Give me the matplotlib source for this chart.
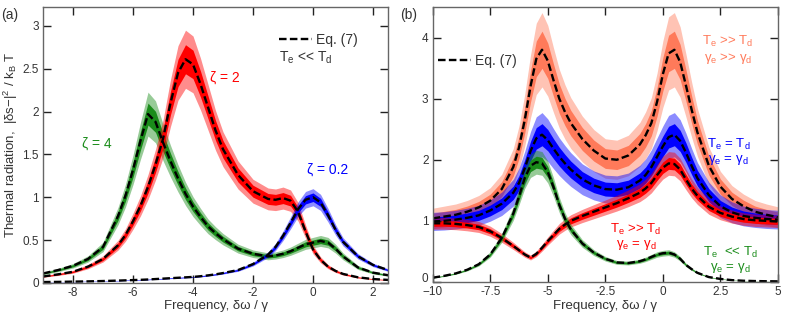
import numpy as np
import matplotlib
matplotlib.use("Agg")
import matplotlib.pyplot as plt
from matplotlib.transforms import ScaledTranslation

plt.rcParams['font.family'] = ['Liberation Sans', 'DejaVu Sans']
plt.rcParams['mathtext.fontset'] = 'custom'
plt.rcParams['mathtext.rm'] = 'Liberation Sans'
plt.rcParams['mathtext.it'] = 'Liberation Sans:italic'
plt.rcParams['axes.unicode_minus'] = False

# ---- panel (a): T_e << T_d, three coupling strengths ----
xa = [-9, -8.5, -8, -7.5, -7, -6.5, -6.25, -6, -5.75, -5.5, -5.25, -5, -4.75, -4.5,
      -4.25, -4, -3.75, -3.5, -3.25, -3, -2.5, -2, -1.5, -1.25, -1, -0.75, -0.5,
      -0.25, 0, 0.25, 0.5, 0.75, 1, 1.5, 2, 2.5]
zeta4 = [0.11, 0.15, 0.20, 0.28, 0.42, 0.78, 1.02, 1.32, 1.66, 1.97, 1.88, 1.64, 1.42, 1.22,
         1.04, 0.89, 0.77, 0.66, 0.58, 0.51, 0.40, 0.34, 0.31, 0.32, 0.34, 0.37, 0.41,
         0.45, 0.47, 0.49, 0.47, 0.40, 0.31, 0.18, 0.12, 0.09]
zeta2 = [0.075, 0.10, 0.13, 0.19, 0.28, 0.44, 0.56, 0.72, 0.90, 1.12, 1.38, 1.68, 2.10, 2.45,
         2.61, 2.55, 2.32, 2.05, 1.78, 1.56, 1.26, 1.07, 0.98, 0.97, 0.99, 0.96, 0.83,
         0.60, 0.39, 0.27, 0.19, 0.14, 0.105, 0.065, 0.045, 0.035]
zeta02 = [0.01, 0.012, 0.015, 0.018, 0.022, 0.027, 0.03, 0.033, 0.036, 0.04, 0.045, 0.05,
          0.055, 0.06, 0.065, 0.07, 0.078, 0.088, 0.10, 0.115, 0.15, 0.22, 0.33, 0.42,
          0.55, 0.70, 0.86, 0.97, 1.0, 0.94, 0.79, 0.62, 0.48, 0.31, 0.21, 0.15]

# ---- panel (b): four temperature / damping cases ----
xb = [-10, -9.5, -9, -8.5, -8, -7.5, -7, -6.5, -6.25, -6, -5.75, -5.5, -5.25, -5, -4.75,
      -4.5, -4.25, -4, -3.5, -3, -2.5, -2, -1.5, -1, -0.75, -0.5, -0.25, 0, 0.25, 0.5,
      0.75, 1, 1.25, 1.5, 2, 2.5, 3, 3.5, 4, 4.5, 5]
hot_hot = [1.04, 1.07, 1.10, 1.15, 1.22, 1.33, 1.52, 1.88, 2.20, 2.65, 3.20, 3.65, 3.80,
           3.62, 3.30, 3.00, 2.78, 2.60, 2.34, 2.15, 2.02, 2.00, 2.07, 2.25, 2.40, 2.60,
           2.95, 3.40, 3.74, 3.80, 3.60, 3.22, 2.82, 2.45, 1.90, 1.56, 1.36, 1.24, 1.15,
           1.10, 1.06]
equal = [0.99, 1.00, 1.02, 1.05, 1.09, 1.17, 1.28, 1.46, 1.62, 1.86, 2.14, 2.35, 2.41,
         2.32, 2.18, 2.05, 1.94, 1.84, 1.68, 1.58, 1.52, 1.51, 1.55, 1.66, 1.75, 1.88,
         2.05, 2.22, 2.37, 2.41, 2.31, 2.12, 1.90, 1.70, 1.42, 1.24, 1.14, 1.08, 1.05,
         1.03, 1.02]
hot_eq = [0.96, 0.96, 0.95, 0.93, 0.90, 0.83, 0.72, 0.59, 0.52, 0.45, 0.40, 0.46, 0.56,
          0.67, 0.77, 0.87, 0.94, 1.00, 1.08, 1.15, 1.22, 1.29, 1.37, 1.46, 1.53, 1.62,
          1.75, 1.87, 1.94, 1.93, 1.84, 1.68, 1.53, 1.41, 1.23, 1.13, 1.07, 1.03, 1.01,
          1.00, 0.99]
cold_eq = [0.07, 0.10, 0.14, 0.20, 0.29, 0.45, 0.72, 1.12, 1.40, 1.70, 1.90, 1.96, 1.94,
           1.80, 1.55, 1.26, 1.03, 0.86, 0.63, 0.48, 0.38, 0.32, 0.31, 0.34, 0.37, 0.41,
           0.45, 0.47, 0.48, 0.45, 0.38, 0.28, 0.21, 0.15, 0.08, 0.05, 0.03, 0.02, 0.015,
           0.012, 0.01]

noise_a = {'zeta4': 0.13, 'zeta2': 0.13, 'zeta02': 0.10}
noise_b = {'hot_hot': 0.16, 'equal': 0.15, 'hot_eq': 0.10, 'cold_eq': 0.10}

GREEN = '#1a8c1a'
RED = '#ff0000'
BLUE = '#0000ff'
SALMON = '#ff7a5a'
TXT = '#333333'
SPINE = '#666666'
DASH = (0, (3.2, 1.4))


def noisy_band(ax, x, y, spread, color):
    y = np.asarray(y)
    ax.fill_between(x, y * (1 - spread), y * (1 + spread), color=color, alpha=0.45, lw=0)
    ax.fill_between(x, y * (1 - spread * 0.5), y * (1 + spread * 0.5), color=color, lw=0)


def style(ax):
    for s in ax.spines.values():
        s.set_color(SPINE)
        s.set_linewidth(1.0)
    ax.tick_params(direction='in', length=6, width=1.0, color='#222222',
                   top=True, right=True, labelsize=8.5, labelcolor=TXT, pad=3)


fig = plt.figure(figsize=(7.89, 3.14), dpi=100)
axa = fig.add_axes([0.0545, 0.099, 0.4373, 0.8788])
axb = fig.add_axes([0.5484, 0.102, 0.4376, 0.8758])

# panel (a)
noisy_band(axa, xa, zeta4, noise_a['zeta4'], GREEN)
noisy_band(axa, xa, zeta2, noise_a['zeta2'], RED)
noisy_band(axa, xa, zeta02, noise_a['zeta02'], BLUE)
for y in (zeta4, zeta2, zeta02):
    axa.plot(xa, y, color='black', lw=1.7, ls=DASH)
eq_a, = axa.plot([], [], color='black', lw=1.7, ls=DASH, label='Eq. (7)')

axa.set_xlim(-9, 2.5)
axa.set_ylim(0, 3.22)
axa.set_xticks([-8, -6, -4, -2, 0, 2])
axa.set_yticks([0, 0.5, 1, 1.5, 2, 2.5, 3])
axa.set_yticklabels(['0', '0.5', '1', '1.5', '2', '2.5', '3'])
style(axa)
axa.set_xlabel('Frequency, δω / γ', fontsize=9.5, color=TXT, labelpad=1)
axa.set_ylabel(r'Thermal radiation,  |δs−|$^2$ / k$_\mathrm{B}$ T', fontsize=9.5,
               color=TXT, labelpad=2)
axa.text(-3.45, 2.40, 'ζ = 2', color=RED, fontsize=10, va='center')
axa.text(-7.7, 1.63, 'ζ = 4', color=GREEN, fontsize=10, va='center')
axa.text(-0.2, 1.32, 'ζ = 0.2', color=BLUE, fontsize=10, va='center')
axa.text(-1.13, 2.63, r'T$_\mathrm{e}$ << T$_\mathrm{d}$', color=TXT, fontsize=10, va='center')
axa.legend(handles=[eq_a], loc='upper left', bbox_to_anchor=(0.684, 0.907), frameon=False,
           fontsize=10, handlelength=2.4, handletextpad=0.25, borderpad=0, borderaxespad=0,
           labelcolor=TXT)

# panel (b)
noisy_band(axb, xb, hot_hot, noise_b['hot_hot'], SALMON)
noisy_band(axb, xb, equal, noise_b['equal'], BLUE)
noisy_band(axb, xb, hot_eq, noise_b['hot_eq'], RED)
noisy_band(axb, xb, cold_eq, noise_b['cold_eq'], GREEN)
for y in (hot_hot, equal, hot_eq, cold_eq):
    axb.plot(xb, y, color='black', lw=1.7, ls=DASH)
eq_b, = axb.plot([], [], color='black', lw=1.7, ls=DASH, label='Eq. (7)')

axb.set_xlim(-10, 5)
axb.set_ylim(0, 4.5)
axb.set_xticks([-10, -7.5, -5, -2.5, 0, 2.5, 5])
axb.set_xticklabels(['−10', '-7.5', '-5', '-2.5', '0', '2.5', '5'])
axb.set_yticks([0, 1, 2, 3, 4])
style(axb)
# lift the "0" y label a little so it clears the "-10" below it
axb.get_yticklabels()[0].set_transform(
    axb.get_yaxis_transform(which='tick1') + ScaledTranslation(0, 3 / 72, fig.dpi_scale_trans)
    + ScaledTranslation(-3 / 72, 0, fig.dpi_scale_trans))
axb.set_xlabel('Frequency, δω / γ', fontsize=9.5, color=TXT, labelpad=1)
axb.legend(handles=[eq_b], loc='upper left', bbox_to_anchor=(0.015, 0.83), frameon=False,
           fontsize=10, handlelength=2.4, handletextpad=0.25, borderpad=0, borderaxespad=0,
           labelcolor=TXT)

lab = dict(fontsize=9.5, ha='center', va='center')
axb.text(2.82, 3.93, r'T$_\mathrm{e}$ >> T$_\mathrm{d}$', color=SALMON, **lab)
axb.text(2.82, 3.65, r'γ$_\mathrm{e}$ >> γ$_\mathrm{d}$', color=SALMON, **lab)
axb.text(2.85, 2.25, r'T$_\mathrm{e}$ = T$_\mathrm{d}$', color=BLUE, **lab)
axb.text(2.85, 2.00, r'γ$_\mathrm{e}$ = γ$_\mathrm{d}$', color=BLUE, **lab)
axb.text(-1.17, 0.86, r'T$_\mathrm{e}$ >> T$_\mathrm{d}$', color=RED, **lab)
axb.text(-1.17, 0.60, r'γ$_\mathrm{e}$ = γ$_\mathrm{d}$', color=RED, **lab)
axb.text(2.95, 0.49, r'T$_\mathrm{e}$  << T$_\mathrm{d}$', color=GREEN, **lab)
axb.text(2.95, 0.23, r'γ$_\mathrm{e}$ = γ$_\mathrm{d}$', color=GREEN, **lab)

fig.text(0.001, 0.952, '(a)', fontsize=10, color=TXT, va='center')
fig.text(0.507, 0.952, '(b)', fontsize=10, color=TXT, va='center')

fig.savefig('out.png', dpi=100)
